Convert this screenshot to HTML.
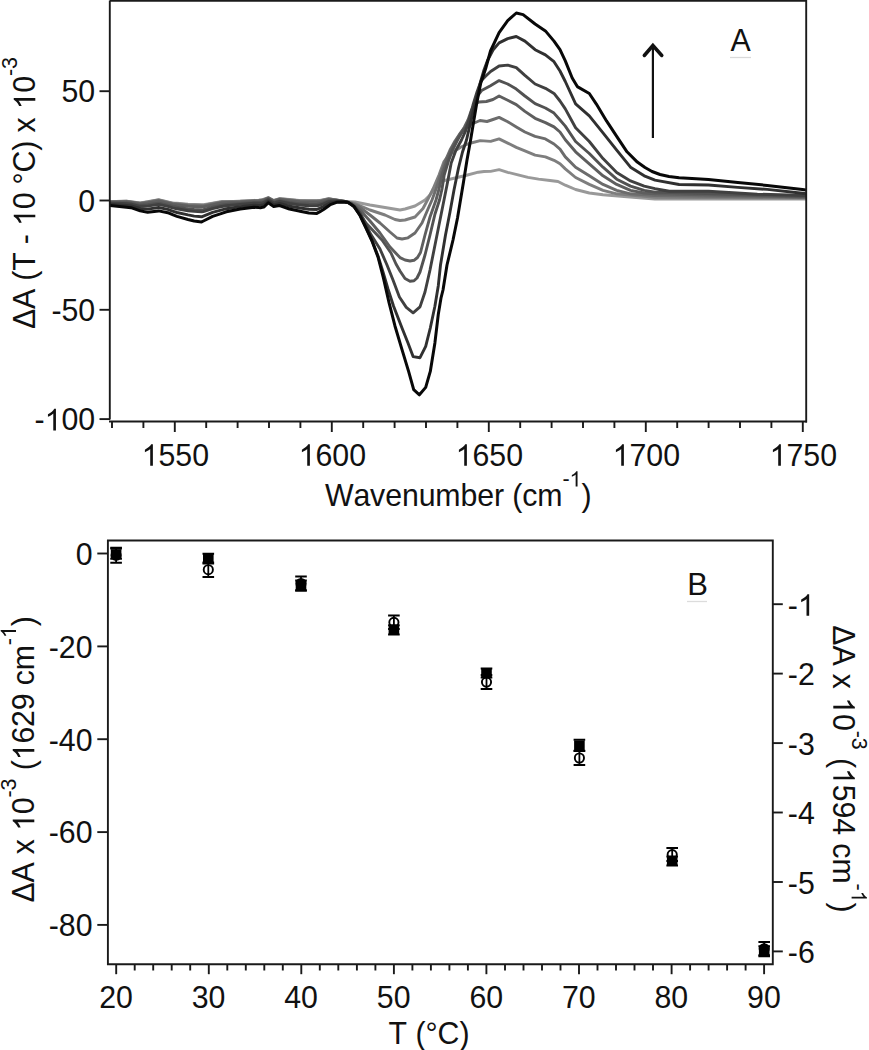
<!DOCTYPE html>
<html><head><meta charset="utf-8"><title>Figure</title>
<style>html,body{margin:0;padding:0;background:#fff;}body{width:869px;height:1050px;overflow:hidden;}
svg{display:block;}</style></head>
<body><svg width="869" height="1050" viewBox="0 0 869 1050">
<rect width="869" height="1050" fill="#fff"/>
<defs><clipPath id="ca"><rect x="110" y="1" width="696" height="420"/></clipPath></defs>
<g clip-path="url(#ca)" fill="none" stroke-linejoin="round" stroke-linecap="round">
<path d="M110.0,201.6 L121.8,201.2 L126.4,201.1 L131.0,201.7 L140.2,202.9 L147.6,201.6 L158.6,199.7 L167.8,201.8 L172.5,202.9 L177.0,203.3 L188.0,204.3 L194.2,204.5 L201.6,204.7 L203.4,204.8 L212.6,203.2 L221.8,201.5 L226.4,201.4 L240.2,201.1 L254.0,200.4 L258.7,200.2 L260.5,200.0 L262.5,199.8 L264.0,199.2 L268.3,197.6 L273.7,200.5 L279.6,198.6 L289.4,199.5 L299.1,200.4 L300.0,200.5 L308.9,200.5 L316.8,200.5 L320.0,200.5 L323.6,199.7 L328.5,198.6 L330.4,198.9 L337.3,200.1 L345.0,201.4 L355.0,202.0 L370.0,205.0 L385.0,207.5 L400.0,210.0 L405.0,209.0 L415.0,206.0 L425.0,200.0 L430.0,195.0 L434.0,189.0 L437.0,185.0 L440.0,183.5 L444.5,180.5 L453.0,178.5 L465.6,175.5 L478.3,172.2 L484.0,171.5 L490.6,171.4 L499.1,169.7 L507.7,172.3 L518.0,174.9 L528.0,177.4 L538.6,179.1 L550.0,180.5 L558.0,181.5 L565.3,185.2 L575.6,189.5 L589.3,193.0 L603.0,194.7 L630.0,197.0 L655.0,199.0 L730.0,199.0 L806.0,199.0" stroke="#999999" stroke-width="2.9"/>
<path d="M110.0,201.7 L121.8,201.4 L126.4,201.3 L131.0,201.9 L140.2,203.1 L147.6,201.9 L158.6,200.0 L167.8,202.1 L172.5,203.3 L177.0,203.7 L188.0,204.8 L194.2,205.0 L201.6,205.3 L203.4,205.3 L212.6,203.5 L221.8,201.9 L226.4,201.7 L240.2,201.3 L254.0,200.6 L258.7,200.4 L260.5,200.2 L262.5,200.0 L264.0,199.5 L268.3,197.8 L273.7,200.7 L279.6,198.8 L289.4,199.8 L299.1,200.7 L300.0,200.8 L308.9,200.9 L316.8,200.9 L320.0,200.8 L323.6,200.0 L328.5,198.8 L330.4,199.1 L337.3,200.2 L345.0,201.4 L352.0,203.0 L356.0,204.0 L370.0,210.0 L385.0,215.0 L395.0,219.5 L400.0,220.5 L405.0,220.0 L415.0,217.0 L423.0,208.5 L427.5,200.0 L433.0,189.0 L439.0,175.0 L444.0,161.6 L448.5,155.5 L454.0,151.5 L461.0,147.0 L469.0,143.5 L480.3,140.6 L490.6,141.4 L499.1,138.9 L507.7,143.1 L516.3,147.4 L524.9,150.9 L535.1,155.1 L545.4,156.9 L554.0,160.3 L560.0,163.7 L565.3,168.9 L575.6,177.5 L589.3,184.4 L603.0,190.4 L616.7,193.8 L655.0,197.2 L806.0,198.0" stroke="#7e7e7e" stroke-width="2.9"/>
<path d="M110.0,201.9 L121.8,201.6 L126.4,201.5 L131.0,202.1 L140.2,203.5 L147.6,202.4 L158.6,200.5 L167.8,202.6 L172.5,203.7 L177.0,204.2 L188.0,205.4 L194.2,205.7 L201.6,205.9 L203.4,205.9 L212.6,204.1 L221.8,202.3 L226.4,202.1 L240.2,201.7 L254.0,200.9 L258.7,200.7 L260.5,200.5 L262.5,200.3 L264.0,199.8 L268.3,198.0 L273.7,200.9 L279.6,199.1 L289.4,200.2 L299.1,201.2 L300.0,201.2 L308.9,201.4 L316.8,201.4 L320.0,201.3 L323.6,200.4 L328.5,199.1 L330.4,199.3 L337.3,200.2 L345.0,201.4 L352.0,203.5 L358.0,206.0 L370.0,215.0 L380.0,223.0 L390.0,232.0 L397.0,238.0 L402.0,239.0 L408.0,237.8 L415.0,233.0 L422.0,223.0 L428.0,209.0 L432.0,200.0 L436.0,189.0 L440.5,175.0 L445.0,161.6 L450.0,150.0 L455.0,141.0 L460.0,133.5 L466.0,126.5 L474.3,123.0 L480.0,120.5 L487.0,121.5 L493.0,119.5 L499.1,117.4 L507.7,121.7 L516.3,126.9 L524.9,132.0 L535.1,136.3 L545.4,138.9 L554.0,144.0 L560.0,149.1 L565.3,156.9 L575.6,167.2 L589.3,175.8 L603.0,184.4 L616.7,190.4 L630.5,193.8 L655.0,195.5 L806.0,197.5" stroke="#6c6c6c" stroke-width="2.9"/>
<path d="M110.0,202.1 L121.8,202.0 L126.4,201.9 L131.0,202.5 L140.2,203.9 L147.6,203.0 L158.6,201.2 L167.8,203.2 L172.5,204.4 L177.0,205.0 L188.0,206.3 L194.2,206.6 L201.6,207.0 L203.4,206.9 L212.6,204.9 L221.8,203.0 L226.4,202.8 L240.2,202.1 L254.0,201.3 L258.7,201.2 L260.5,201.0 L262.5,200.8 L264.0,200.2 L268.3,198.3 L273.7,201.3 L279.6,199.5 L289.4,200.7 L299.1,201.8 L300.0,201.9 L308.9,202.1 L316.8,202.2 L320.0,201.9 L323.6,201.0 L328.5,199.6 L330.4,199.7 L337.3,200.4 L345.0,201.5 L352.0,203.8 L360.0,210.0 L370.0,221.0 L380.0,233.0 L390.0,247.0 L400.0,257.6 L405.0,260.0 L410.0,261.0 L414.0,260.3 L417.5,257.5 L420.5,252.5 L425.0,235.0 L430.0,217.0 L436.0,200.0 L439.0,189.0 L442.0,175.0 L446.5,161.6 L451.0,150.0 L456.0,141.0 L460.0,134.0 L464.5,127.0 L468.0,120.0 L471.5,110.0 L475.0,104.0 L479.0,102.0 L486.4,101.5 L493.0,99.5 L499.1,96.0 L507.7,100.3 L516.3,104.6 L524.9,111.4 L535.1,118.3 L545.4,122.6 L554.0,126.9 L560.0,132.0 L565.3,139.8 L575.6,151.8 L589.3,163.8 L603.0,175.8 L616.7,184.4 L630.5,190.4 L644.2,193.0 L655.0,193.8 L806.0,197.0" stroke="#5e5e5e" stroke-width="2.9"/>
<path d="M110.0,202.7 L121.8,202.9 L126.4,202.9 L131.0,203.5 L140.2,205.3 L147.6,204.8 L158.6,203.1 L167.8,205.1 L172.5,206.4 L177.0,207.2 L188.0,208.9 L194.2,209.5 L201.6,209.9 L203.4,209.7 L212.6,207.1 L221.8,205.1 L226.4,204.5 L240.2,203.5 L254.0,202.5 L258.7,202.4 L260.5,202.3 L262.5,202.1 L264.0,201.6 L268.3,199.1 L273.7,202.3 L279.6,200.7 L289.4,202.4 L299.1,203.6 L300.0,203.7 L308.9,204.2 L316.8,204.4 L320.0,203.8 L323.6,202.6 L328.5,200.8 L330.4,200.6 L337.3,200.7 L345.0,201.6 L352.0,204.0 L358.0,212.0 L365.0,222.0 L372.0,229.5 L382.0,240.0 L391.0,253.0 L396.0,264.0 L400.0,271.0 L405.0,278.5 L410.0,281.2 L414.0,280.8 L417.0,278.0 L420.0,272.0 L425.0,255.0 L430.0,235.0 L435.0,214.0 L439.5,200.0 L442.0,189.0 L444.2,175.0 L448.3,161.6 L452.5,150.0 L457.0,141.0 L461.0,134.0 L466.0,127.0 L469.5,120.0 L472.5,110.0 L476.0,100.0 L478.5,94.5 L481.6,90.6 L490.5,85.7 L499.1,80.6 L507.7,84.0 L516.3,89.1 L524.9,96.0 L535.1,103.7 L545.4,108.0 L554.0,113.1 L560.0,120.0 L565.3,126.1 L575.6,141.5 L589.3,153.5 L603.0,167.2 L616.7,179.2 L630.5,186.1 L644.2,190.4 L655.0,192.1 L708.0,193.5 L806.0,196.5" stroke="#525252" stroke-width="2.9"/>
<path d="M110.0,203.2 L121.8,203.5 L126.4,203.7 L131.0,204.2 L140.2,206.3 L147.6,206.1 L158.6,204.4 L167.8,206.4 L172.5,207.8 L177.0,208.8 L188.0,210.7 L194.2,211.4 L201.6,211.9 L203.4,211.6 L212.6,208.7 L221.8,206.5 L226.4,205.8 L240.2,204.4 L254.0,203.3 L258.7,203.3 L260.5,203.2 L262.5,202.9 L264.0,202.5 L268.3,199.7 L273.7,203.1 L279.6,201.5 L289.4,203.5 L299.1,204.9 L300.0,205.0 L308.9,205.8 L316.8,205.9 L320.0,205.1 L323.6,203.8 L328.5,201.7 L330.4,201.3 L337.3,201.0 L345.0,201.6 L350.0,203.5 L355.0,207.0 L360.0,213.0 L365.0,222.0 L370.0,233.0 L375.0,241.0 L380.0,249.0 L387.0,265.0 L393.0,280.0 L399.4,297.0 L406.3,307.4 L413.1,312.8 L420.0,306.9 L425.0,292.0 L430.0,270.0 L435.0,245.0 L439.0,225.0 L443.0,205.0 L447.0,185.0 L451.2,163.0 L456.0,150.0 L461.5,140.0 L465.6,131.0 L469.0,120.0 L473.0,105.0 L477.0,92.0 L481.0,81.0 L484.8,77.0 L490.6,71.5 L499.1,66.0 L507.7,65.1 L516.3,67.7 L524.9,75.4 L535.1,84.0 L545.4,88.3 L554.0,93.4 L560.0,101.0 L565.3,108.9 L575.6,127.8 L589.3,141.5 L603.0,158.6 L616.7,172.4 L630.5,180.9 L644.2,186.1 L655.0,188.7 L669.4,191.3 L708.5,191.3 L757.4,194.2 L806.0,195.5" stroke="#404040" stroke-width="2.9"/>
<path d="M110.0,204.3 L121.8,205.1 L126.4,205.4 L131.0,205.9 L140.2,208.5 L147.6,209.1 L158.6,207.5 L167.8,209.4 L172.5,211.1 L177.0,212.5 L188.0,214.9 L194.2,216.1 L201.6,216.8 L203.4,216.1 L212.6,212.4 L221.8,209.8 L226.4,208.7 L240.2,206.6 L254.0,205.2 L258.7,205.4 L260.5,205.4 L262.5,205.0 L264.0,204.7 L268.3,201.2 L273.7,204.8 L279.6,203.5 L289.4,206.2 L299.1,207.8 L300.0,208.0 L308.9,209.2 L316.8,209.5 L320.0,208.2 L323.6,206.6 L328.5,203.8 L330.4,202.9 L337.3,201.6 L345.0,201.8 L348.0,202.4 L354.0,206.4 L360.0,215.2 L366.0,227.5 L372.0,240.5 L378.0,256.0 L383.0,272.0 L388.0,289.0 L393.5,306.0 L402.0,328.0 L408.0,343.0 L413.1,356.6 L420.0,357.7 L425.7,346.3 L430.3,328.0 L434.9,306.3 L438.3,285.7 L440.5,265.0 L445.5,235.0 L450.0,212.0 L454.0,190.0 L458.5,168.0 L462.5,152.0 L466.5,140.0 L470.0,125.0 L473.5,110.0 L477.0,96.0 L480.5,82.0 L484.0,70.0 L487.5,60.5 L493.0,50.0 L499.1,42.9 L507.7,38.6 L516.3,36.5 L524.9,41.1 L535.1,49.7 L545.4,54.9 L554.0,61.7 L560.0,71.0 L565.3,81.5 L575.6,103.8 L589.3,115.8 L603.0,132.9 L616.7,150.1 L630.5,167.2 L644.2,175.8 L655.0,180.1 L679.1,184.5 L708.5,185.0 L737.8,187.4 L767.2,189.4 L802.4,193.3 L806.0,193.8" stroke="#303030" stroke-width="2.9"/>
<path d="M110.0,205.4 L121.8,206.7 L126.4,207.2 L131.0,207.7 L140.2,210.9 L147.6,212.3 L158.6,210.9 L167.8,212.7 L172.5,214.6 L177.0,216.4 L188.0,219.5 L194.2,221.0 L201.6,221.9 L203.4,221.0 L212.6,216.4 L221.8,213.3 L226.4,211.8 L240.2,209.0 L254.0,207.2 L258.7,207.6 L260.5,207.7 L262.5,207.3 L264.0,207.0 L268.3,202.7 L273.7,206.6 L279.6,205.6 L289.4,209.0 L299.1,211.0 L300.0,211.2 L308.9,213.0 L316.8,213.4 L320.0,211.6 L323.6,209.5 L328.5,206.0 L330.4,204.6 L337.3,202.2 L345.0,201.9 L348.0,202.3 L354.0,206.5 L360.0,215.5 L366.0,228.0 L372.0,241.0 L378.0,257.0 L383.4,278.0 L389.1,302.9 L394.9,325.7 L401.7,348.6 L408.6,371.4 L413.7,389.7 L419.4,394.8 L425.7,387.4 L430.3,371.4 L434.9,342.9 L438.3,314.3 L441.0,298.0 L443.0,290.0 L447.0,265.0 L453.0,240.0 L457.5,218.0 L460.5,200.0 L463.5,182.0 L467.0,160.0 L470.6,140.0 L473.9,120.0 L476.7,103.5 L480.7,83.3 L485.6,68.8 L490.5,51.0 L499.1,32.6 L507.7,20.6 L516.3,13.0 L523.1,14.6 L535.1,24.0 L545.4,30.9 L554.0,41.1 L560.0,49.7 L565.3,60.9 L572.2,78.0 L577.3,86.6 L589.3,93.5 L596.2,103.8 L606.5,120.9 L616.7,136.3 L627.0,151.8 L637.3,162.1 L645.0,167.5 L652.0,171.5 L660.0,174.5 L669.0,176.5 L679.1,177.8 L692.0,178.6 L708.5,179.6 L737.8,182.5 L767.2,185.4 L802.4,189.4 L806.0,190.0" stroke="#080808" stroke-width="3.0"/>
</g>
<g stroke="#1a1a1a" stroke-width="1.9" fill="none" stroke-linecap="butt">
<path d="M109.8,0.5 L109.8,419.5"/>
<path d="M109.8,0.9 L806.2,0.9"/>
<path d="M806.2,0 L806.2,422.4"/>
<path d="M109,421.5 L807,421.5"/>
<path d="M99.5,91.2 L110,91.2"/>
<path d="M99.5,200.5 L110,200.5"/>
<path d="M99.5,309.8 L110,309.8"/>
<path d="M99.5,419.1 L110,419.1"/>
<path d="M112.0,421.5 L112.0,428.0"/>
<path d="M143.4,421.5 L143.4,428.0"/>
<path d="M174.8,421.5 L174.8,432.0"/>
<path d="M206.2,421.5 L206.2,428.0"/>
<path d="M237.6,421.5 L237.6,428.0"/>
<path d="M269.0,421.5 L269.0,428.0"/>
<path d="M300.4,421.5 L300.4,428.0"/>
<path d="M331.8,421.5 L331.8,432.0"/>
<path d="M363.2,421.5 L363.2,428.0"/>
<path d="M394.6,421.5 L394.6,428.0"/>
<path d="M426.0,421.5 L426.0,428.0"/>
<path d="M457.4,421.5 L457.4,428.0"/>
<path d="M488.8,421.5 L488.8,432.0"/>
<path d="M520.2,421.5 L520.2,428.0"/>
<path d="M551.6,421.5 L551.6,428.0"/>
<path d="M583.0,421.5 L583.0,428.0"/>
<path d="M614.4,421.5 L614.4,428.0"/>
<path d="M645.8,421.5 L645.8,432.0"/>
<path d="M677.2,421.5 L677.2,428.0"/>
<path d="M708.6,421.5 L708.6,428.0"/>
<path d="M740.0,421.5 L740.0,428.0"/>
<path d="M771.4,421.5 L771.4,428.0"/>
<path d="M802.8,421.5 L802.8,432.0"/>
</g>
<g stroke="#111" fill="none">
<path d="M652.9,46 L652.9,138" stroke-width="2.2"/>
<path d="M644.3,55.5 L652.9,45.5 L661.8,55.5" stroke-width="3.5" stroke-linecap="round" stroke-linejoin="miter"/>
</g>
<g transform="translate(0,102.50) scale(1,1.0200) translate(0,-102.50)">
<text x="61.50 78.35" y="102.50" style="font-family:'Liberation Sans', sans-serif;font-size:30.30px;fill:#111">50</text>
</g>
<g transform="translate(0,211.80) scale(1,1.0200) translate(0,-211.80)">
<text x="78.35" y="211.80" style="font-family:'Liberation Sans', sans-serif;font-size:30.30px;fill:#111">0</text>
</g>
<g transform="translate(0,321.10) scale(1,1.0200) translate(0,-321.10)">
<text x="51.41 61.50 78.35" y="321.10" style="font-family:'Liberation Sans', sans-serif;font-size:30.30px;fill:#111">-50</text>
</g>
<g transform="translate(0,430.40) scale(1,1.0200) translate(0,-430.40)">
<text x="34.56 61.50 78.35" y="430.40" style="font-family:'Liberation Sans', sans-serif;font-size:30.30px;fill:#111">-00</text>
<path d="M763,0 L583,0 L583,1114 Q518,1053 412,993 Q307,933 223,903 L223,1072 Q374,1141 487,1239 Q600,1337 647,1429 L763,1429 Z" fill="#111" transform="translate(44.65,430.40) scale(0.01479,-0.01479)"/>
</g>
<g transform="translate(0,465.80) scale(1,1.0200) translate(0,-465.80)">
<text x="158.45 175.30 192.15" y="465.80" style="font-family:'Liberation Sans', sans-serif;font-size:30.30px;fill:#111">550</text>
<path d="M763,0 L583,0 L583,1114 Q518,1053 412,993 Q307,933 223,903 L223,1072 Q374,1141 487,1239 Q600,1337 647,1429 L763,1429 Z" fill="#111" transform="translate(141.60,465.80) scale(0.01479,-0.01479)"/>
</g>
<g transform="translate(0,465.80) scale(1,1.0200) translate(0,-465.80)">
<text x="315.45 332.30 349.15" y="465.80" style="font-family:'Liberation Sans', sans-serif;font-size:30.30px;fill:#111">600</text>
<path d="M763,0 L583,0 L583,1114 Q518,1053 412,993 Q307,933 223,903 L223,1072 Q374,1141 487,1239 Q600,1337 647,1429 L763,1429 Z" fill="#111" transform="translate(298.60,465.80) scale(0.01479,-0.01479)"/>
</g>
<g transform="translate(0,465.80) scale(1,1.0200) translate(0,-465.80)">
<text x="472.45 489.30 506.15" y="465.80" style="font-family:'Liberation Sans', sans-serif;font-size:30.30px;fill:#111">650</text>
<path d="M763,0 L583,0 L583,1114 Q518,1053 412,993 Q307,933 223,903 L223,1072 Q374,1141 487,1239 Q600,1337 647,1429 L763,1429 Z" fill="#111" transform="translate(455.60,465.80) scale(0.01479,-0.01479)"/>
</g>
<g transform="translate(0,465.80) scale(1,1.0200) translate(0,-465.80)">
<text x="629.45 646.30 663.15" y="465.80" style="font-family:'Liberation Sans', sans-serif;font-size:30.30px;fill:#111">700</text>
<path d="M763,0 L583,0 L583,1114 Q518,1053 412,993 Q307,933 223,903 L223,1072 Q374,1141 487,1239 Q600,1337 647,1429 L763,1429 Z" fill="#111" transform="translate(612.60,465.80) scale(0.01479,-0.01479)"/>
</g>
<g transform="translate(0,465.80) scale(1,1.0200) translate(0,-465.80)">
<text x="786.45 803.30 820.15" y="465.80" style="font-family:'Liberation Sans', sans-serif;font-size:30.30px;fill:#111">750</text>
<path d="M763,0 L583,0 L583,1114 Q518,1053 412,993 Q307,933 223,903 L223,1072 Q374,1141 487,1239 Q600,1337 647,1429 L763,1429 Z" fill="#111" transform="translate(769.60,465.80) scale(0.01479,-0.01479)"/>
</g>
<g transform="translate(0,506.00) scale(1,1.0200) translate(0,-506.00)">
<text x="325.00 353.40 370.13 385.18 401.91 418.64 435.38 460.44 477.17 493.91 512.29 522.30 537.35" y="506.00" style="font-family:'Liberation Sans', sans-serif;font-size:30.30px;fill:#111">Wavenumber(cm</text>
</g>
<g transform="translate(0,486.50) scale(1,1.0200) translate(0,-486.50)">
<text x="562.41" y="486.50" style="font-family:'Liberation Sans', sans-serif;font-size:21.50px;fill:#111">-</text>
<path d="M763,0 L583,0 L583,1114 Q518,1053 412,993 Q307,933 223,903 L223,1072 Q374,1141 487,1239 Q600,1337 647,1429 L763,1429 Z" fill="#111" transform="translate(569.52,486.50) scale(0.01050,-0.01050)"/>
</g>
<g transform="translate(0,506.00) scale(1,1.0200) translate(0,-506.00)">
<text x="581.40" y="506.00" style="font-family:'Liberation Sans', sans-serif;font-size:30.30px;fill:#111">)</text>
</g>
<g transform="translate(35.3,329.0) rotate(-90)">
<g transform="translate(0,0.00) scale(1,1.0200) translate(0,0.00)">
<text x="0.00 19.98 48.23 58.19 84.77 119.67 144.61 156.57 178.17 196.43 236.33" y="0.00" style="font-family:'Liberation Sans', sans-serif;font-size:30.30px;fill:#111">&#916;A(T-0&#176;C)x0</text>
<path d="M763,0 L583,0 L583,1114 Q518,1053 412,993 Q307,933 223,903 L223,1072 Q374,1141 487,1239 Q600,1337 647,1429 L763,1429 Z" fill="#111" transform="translate(103.04,0.00) scale(0.01479,-0.01479)"/>
<path d="M763,0 L583,0 L583,1114 Q518,1053 412,993 Q307,933 223,903 L223,1072 Q374,1141 487,1239 Q600,1337 647,1429 L763,1429 Z" fill="#111" transform="translate(219.70,0.00) scale(0.01479,-0.01479)"/>
</g>
<g transform="translate(0,-18.30) scale(1,1.0200) translate(0,18.30)">
<text x="252.96 260.03" y="-18.30" style="font-family:'Liberation Sans', sans-serif;font-size:21.50px;fill:#111">-3</text>
</g>
</g>
<g transform="translate(0,51.30) scale(1,1.0200) translate(0,-51.30)">
<text x="730.50" y="51.30" style="font-family:'Liberation Sans', sans-serif;font-size:30.30px;fill:#111">A</text>
</g>
<path d="M730,57.5 L751,57.5" stroke="#d9d9d9" stroke-width="1.3"/>
<g stroke="#1a1a1a" stroke-width="1.9" fill="none">
<path d="M107.9,540.5 L772.8,540.5 L772.8,964.2 L107.9,964.2 Z"/>
<path d="M97.3,553.5 L107.9,553.5"/>
<path d="M97.3,646.4 L107.9,646.4"/>
<path d="M97.3,739.2 L107.9,739.2"/>
<path d="M97.3,832.1 L107.9,832.1"/>
<path d="M97.3,924.9 L107.9,924.9"/>
<path d="M772.8,604.2 L782.8,604.2"/>
<path d="M772.8,673.6 L782.8,673.6"/>
<path d="M772.8,743.1 L782.8,743.1"/>
<path d="M772.8,812.5 L782.8,812.5"/>
<path d="M772.8,882.0 L782.8,882.0"/>
<path d="M772.8,951.4 L782.8,951.4"/>
<path d="M116.2,964.2 L116.2,974.2"/>
<path d="M134.7,964.2 L134.7,970.5"/>
<path d="M153.2,964.2 L153.2,970.5"/>
<path d="M171.7,964.2 L171.7,970.5"/>
<path d="M190.2,964.2 L190.2,970.5"/>
<path d="M208.8,964.2 L208.8,974.2"/>
<path d="M227.3,964.2 L227.3,970.5"/>
<path d="M245.8,964.2 L245.8,970.5"/>
<path d="M264.3,964.2 L264.3,970.5"/>
<path d="M282.8,964.2 L282.8,970.5"/>
<path d="M301.3,964.2 L301.3,974.2"/>
<path d="M319.8,964.2 L319.8,970.5"/>
<path d="M338.3,964.2 L338.3,970.5"/>
<path d="M356.9,964.2 L356.9,970.5"/>
<path d="M375.4,964.2 L375.4,970.5"/>
<path d="M393.9,964.2 L393.9,974.2"/>
<path d="M412.4,964.2 L412.4,970.5"/>
<path d="M430.9,964.2 L430.9,970.5"/>
<path d="M449.4,964.2 L449.4,970.5"/>
<path d="M467.9,964.2 L467.9,970.5"/>
<path d="M486.4,964.2 L486.4,974.2"/>
<path d="M505.0,964.2 L505.0,970.5"/>
<path d="M523.5,964.2 L523.5,970.5"/>
<path d="M542.0,964.2 L542.0,970.5"/>
<path d="M560.5,964.2 L560.5,970.5"/>
<path d="M579.0,964.2 L579.0,974.2"/>
<path d="M597.5,964.2 L597.5,970.5"/>
<path d="M616.0,964.2 L616.0,970.5"/>
<path d="M634.5,964.2 L634.5,970.5"/>
<path d="M653.0,964.2 L653.0,970.5"/>
<path d="M671.6,964.2 L671.6,974.2"/>
<path d="M690.1,964.2 L690.1,970.5"/>
<path d="M708.6,964.2 L708.6,970.5"/>
<path d="M727.1,964.2 L727.1,970.5"/>
<path d="M745.6,964.2 L745.6,970.5"/>
<path d="M764.1,964.2 L764.1,974.2"/>
</g>
<g transform="translate(0,564.90) scale(1,1.0200) translate(0,-564.90)">
<text x="75.65" y="564.90" style="font-family:'Liberation Sans', sans-serif;font-size:30.30px;fill:#111">0</text>
</g>
<g transform="translate(0,657.76) scale(1,1.0200) translate(0,-657.76)">
<text x="48.71 58.80 75.65" y="657.76" style="font-family:'Liberation Sans', sans-serif;font-size:30.30px;fill:#111">-20</text>
</g>
<g transform="translate(0,750.62) scale(1,1.0200) translate(0,-750.62)">
<text x="48.71 58.80 75.65" y="750.62" style="font-family:'Liberation Sans', sans-serif;font-size:30.30px;fill:#111">-40</text>
</g>
<g transform="translate(0,843.48) scale(1,1.0200) translate(0,-843.48)">
<text x="48.71 58.80 75.65" y="843.48" style="font-family:'Liberation Sans', sans-serif;font-size:30.30px;fill:#111">-60</text>
</g>
<g transform="translate(0,936.34) scale(1,1.0200) translate(0,-936.34)">
<text x="48.71 58.80 75.65" y="936.34" style="font-family:'Liberation Sans', sans-serif;font-size:30.30px;fill:#111">-80</text>
</g>
<g transform="translate(0,615.75) scale(1,1.0200) translate(0,-615.75)">
<text x="787.80" y="615.75" style="font-family:'Liberation Sans', sans-serif;font-size:30.30px;fill:#111">-</text>
<path d="M763,0 L583,0 L583,1114 Q518,1053 412,993 Q307,933 223,903 L223,1072 Q374,1141 487,1239 Q600,1337 647,1429 L763,1429 Z" fill="#111" transform="translate(797.89,615.75) scale(0.01479,-0.01479)"/>
</g>
<g transform="translate(0,685.20) scale(1,1.0200) translate(0,-685.20)">
<text x="787.80 797.89" y="685.20" style="font-family:'Liberation Sans', sans-serif;font-size:30.30px;fill:#111">-2</text>
</g>
<g transform="translate(0,754.65) scale(1,1.0200) translate(0,-754.65)">
<text x="787.80 797.89" y="754.65" style="font-family:'Liberation Sans', sans-serif;font-size:30.30px;fill:#111">-3</text>
</g>
<g transform="translate(0,824.10) scale(1,1.0200) translate(0,-824.10)">
<text x="787.80 797.89" y="824.10" style="font-family:'Liberation Sans', sans-serif;font-size:30.30px;fill:#111">-4</text>
</g>
<g transform="translate(0,893.55) scale(1,1.0200) translate(0,-893.55)">
<text x="787.80 797.89" y="893.55" style="font-family:'Liberation Sans', sans-serif;font-size:30.30px;fill:#111">-5</text>
</g>
<g transform="translate(0,963.00) scale(1,1.0200) translate(0,-963.00)">
<text x="787.80 797.89" y="963.00" style="font-family:'Liberation Sans', sans-serif;font-size:30.30px;fill:#111">-6</text>
</g>
<g transform="translate(0,1008.20) scale(1,1.0200) translate(0,-1008.20)">
<text x="99.15 116.00" y="1008.20" style="font-family:'Liberation Sans', sans-serif;font-size:30.30px;fill:#111">20</text>
</g>
<g transform="translate(0,1008.20) scale(1,1.0200) translate(0,-1008.20)">
<text x="191.71 208.56" y="1008.20" style="font-family:'Liberation Sans', sans-serif;font-size:30.30px;fill:#111">30</text>
</g>
<g transform="translate(0,1008.20) scale(1,1.0200) translate(0,-1008.20)">
<text x="284.27 301.12" y="1008.20" style="font-family:'Liberation Sans', sans-serif;font-size:30.30px;fill:#111">40</text>
</g>
<g transform="translate(0,1008.20) scale(1,1.0200) translate(0,-1008.20)">
<text x="376.83 393.68" y="1008.20" style="font-family:'Liberation Sans', sans-serif;font-size:30.30px;fill:#111">50</text>
</g>
<g transform="translate(0,1008.20) scale(1,1.0200) translate(0,-1008.20)">
<text x="469.39 486.24" y="1008.20" style="font-family:'Liberation Sans', sans-serif;font-size:30.30px;fill:#111">60</text>
</g>
<g transform="translate(0,1008.20) scale(1,1.0200) translate(0,-1008.20)">
<text x="561.95 578.80" y="1008.20" style="font-family:'Liberation Sans', sans-serif;font-size:30.30px;fill:#111">70</text>
</g>
<g transform="translate(0,1008.20) scale(1,1.0200) translate(0,-1008.20)">
<text x="654.51 671.36" y="1008.20" style="font-family:'Liberation Sans', sans-serif;font-size:30.30px;fill:#111">80</text>
</g>
<g transform="translate(0,1008.20) scale(1,1.0200) translate(0,-1008.20)">
<text x="747.07 763.92" y="1008.20" style="font-family:'Liberation Sans', sans-serif;font-size:30.30px;fill:#111">90</text>
</g>
<g transform="translate(0,1043.60) scale(1,1.0200) translate(0,-1043.60)">
<text x="388.50 415.43 425.52 437.63 459.52" y="1043.60" style="font-family:'Liberation Sans', sans-serif;font-size:30.30px;fill:#111">T(&#176;C)</text>
</g>
<g transform="translate(34.3,902.6) rotate(-90)">
<g transform="translate(0,0.00) scale(1,1.0200) translate(0,0.00)">
<text x="0.00 20.04 48.38 88.39" y="0.00" style="font-family:'Liberation Sans', sans-serif;font-size:30.30px;fill:#111">&#916;Ax0</text>
<path d="M763,0 L583,0 L583,1114 Q518,1053 412,993 Q307,933 223,903 L223,1072 Q374,1141 487,1239 Q600,1337 647,1429 L763,1429 Z" fill="#111" transform="translate(71.71,0.00) scale(0.01479,-0.01479)"/>
</g>
<g transform="translate(0,-18.30) scale(1,1.0200) translate(0,18.30)">
<text x="105.08 112.17" y="-18.30" style="font-family:'Liberation Sans', sans-serif;font-size:21.50px;fill:#111">-3</text>
</g>
<g transform="translate(0,0.00) scale(1,1.0200) translate(0,0.00)">
<text x="132.34 159.01 175.69 192.38 217.39 232.39" y="0.00" style="font-family:'Liberation Sans', sans-serif;font-size:30.30px;fill:#111">(629cm</text>
<path d="M763,0 L583,0 L583,1114 Q518,1053 412,993 Q307,933 223,903 L223,1072 Q374,1141 487,1239 Q600,1337 647,1429 L763,1429 Z" fill="#111" transform="translate(142.33,0.00) scale(0.01479,-0.01479)"/>
</g>
<g transform="translate(0,-18.30) scale(1,1.0200) translate(0,18.30)">
<text x="257.38" y="-18.30" style="font-family:'Liberation Sans', sans-serif;font-size:21.50px;fill:#111">-</text>
<path d="M763,0 L583,0 L583,1114 Q518,1053 412,993 Q307,933 223,903 L223,1072 Q374,1141 487,1239 Q600,1337 647,1429 L763,1429 Z" fill="#111" transform="translate(264.47,-18.30) scale(0.01050,-0.01050)"/>
</g>
<g transform="translate(0,0.00) scale(1,1.0200) translate(0,0.00)">
<text x="276.30" y="0.00" style="font-family:'Liberation Sans', sans-serif;font-size:30.30px;fill:#111">)</text>
</g>
</g>
<g transform="translate(833.3,625.3) rotate(90)">
<g transform="translate(0,0.00) scale(1,1.0200) translate(0,0.00)">
<text x="0.00 20.10 48.53 88.66" y="0.00" style="font-family:'Liberation Sans', sans-serif;font-size:30.30px;fill:#111">&#916;Ax0</text>
<path d="M763,0 L583,0 L583,1114 Q518,1053 412,993 Q307,933 223,903 L223,1072 Q374,1141 487,1239 Q600,1337 647,1429 L763,1429 Z" fill="#111" transform="translate(71.93,0.00) scale(0.01479,-0.01479)"/>
</g>
<g transform="translate(0,-18.30) scale(1,1.0200) translate(0,18.30)">
<text x="105.40 112.51" y="-18.30" style="font-family:'Liberation Sans', sans-serif;font-size:21.50px;fill:#111">-3</text>
</g>
<g transform="translate(0,0.00) scale(1,1.0200) translate(0,0.00)">
<text x="132.74 159.49 176.22 192.96 218.05 233.09" y="0.00" style="font-family:'Liberation Sans', sans-serif;font-size:30.30px;fill:#111">(594cm</text>
<path d="M763,0 L583,0 L583,1114 Q518,1053 412,993 Q307,933 223,903 L223,1072 Q374,1141 487,1239 Q600,1337 647,1429 L763,1429 Z" fill="#111" transform="translate(142.76,0.00) scale(0.01479,-0.01479)"/>
</g>
<g transform="translate(0,-18.30) scale(1,1.0200) translate(0,18.30)">
<text x="258.16" y="-18.30" style="font-family:'Liberation Sans', sans-serif;font-size:21.50px;fill:#111">-</text>
<path d="M763,0 L583,0 L583,1114 Q518,1053 412,993 Q307,933 223,903 L223,1072 Q374,1141 487,1239 Q600,1337 647,1429 L763,1429 Z" fill="#111" transform="translate(265.27,-18.30) scale(0.01050,-0.01050)"/>
</g>
<g transform="translate(0,0.00) scale(1,1.0200) translate(0,0.00)">
<text x="277.14" y="0.00" style="font-family:'Liberation Sans', sans-serif;font-size:30.30px;fill:#111">)</text>
</g>
</g>
<g transform="translate(0,594.80) scale(1,1.0200) translate(0,-594.80)">
<text x="687.20" y="594.80" style="font-family:'Liberation Sans', sans-serif;font-size:31.00px;fill:#111">B</text>
</g>
<path d="M687,601.5 L707,601.5" stroke="#dcdcdc" stroke-width="1.3"/>
<g stroke="#000" fill="none">
<path d="M116.1,547.8 L116.1,562.8" stroke-width="1.8"/>
<path d="M110.3,547.8 L121.9,547.8 M110.3,562.8 L121.9,562.8" stroke-width="2"/>
<circle cx="116.1" cy="555.3" r="4.6" stroke-width="1.9" fill="#000"/>
<rect x="110.8" y="549.2" width="10.6" height="9.6" fill="#000" stroke="none"/>
<path d="M110.3,548.6 L121.9,548.6 M110.3,558.8 L121.9,558.8" stroke-width="2"/>
<path d="M208.3,562.5 L208.3,576.9" stroke-width="1.8"/>
<path d="M202.5,562.5 L214.1,562.5 M202.5,576.9 L214.1,576.9" stroke-width="2"/>
<circle cx="208.3" cy="569.7" r="4.6" stroke-width="1.9" fill="none"/>
<rect x="203.0" y="553.8" width="10.6" height="9.6" fill="#000" stroke="none"/>
<path d="M202.5,553.8 L214.1,553.8 M202.5,563.5 L214.1,563.5" stroke-width="2"/>
<path d="M301.0,576.5 L301.0,590.5" stroke-width="1.8"/>
<path d="M295.2,576.5 L306.8,576.5 M295.2,590.5 L306.8,590.5" stroke-width="2"/>
<circle cx="301.0" cy="583.5" r="4.6" stroke-width="1.9" fill="#000"/>
<rect x="295.7" y="580.5" width="10.6" height="9.6" fill="#000" stroke="none"/>
<path d="M295.2,580.5 L306.8,580.5 M295.2,590.6 L306.8,590.6" stroke-width="2"/>
<path d="M393.9,615.5 L393.9,629.1" stroke-width="1.8"/>
<path d="M388.1,615.5 L399.7,615.5 M388.1,629.1 L399.7,629.1" stroke-width="2"/>
<circle cx="393.9" cy="622.3" r="4.6" stroke-width="1.9" fill="none"/>
<rect x="388.6" y="625.2" width="10.6" height="9.6" fill="#000" stroke="none"/>
<path d="M388.1,625.2 L399.7,625.2 M388.1,634.5 L399.7,634.5" stroke-width="2"/>
<path d="M486.5,675.1 L486.5,689.1" stroke-width="1.8"/>
<path d="M480.7,675.1 L492.3,675.1 M480.7,689.1 L492.3,689.1" stroke-width="2"/>
<circle cx="486.5" cy="682.1" r="4.6" stroke-width="1.9" fill="none"/>
<rect x="481.2" y="668.1" width="10.6" height="9.6" fill="#000" stroke="none"/>
<path d="M480.7,668.4 L492.3,668.4 M480.7,677.4 L492.3,677.4" stroke-width="2"/>
<path d="M579.4,751.0 L579.4,765.0" stroke-width="1.8"/>
<path d="M573.6,751.0 L585.2,751.0 M573.6,765.0 L585.2,765.0" stroke-width="2"/>
<circle cx="579.4" cy="758.0" r="4.6" stroke-width="1.9" fill="none"/>
<rect x="574.1" y="740.5" width="10.6" height="9.6" fill="#000" stroke="none"/>
<path d="M573.6,739.8 L585.2,739.8 M573.6,750.8 L585.2,750.8" stroke-width="2"/>
<path d="M672.2,848.1 L672.2,861.1" stroke-width="1.8"/>
<path d="M666.4,848.1 L678.0,848.1 M666.4,861.1 L678.0,861.1" stroke-width="2"/>
<circle cx="672.2" cy="854.6" r="4.6" stroke-width="1.9" fill="none"/>
<rect x="666.9" y="856.2" width="10.6" height="9.6" fill="#000" stroke="none"/>
<path d="M666.4,856.4 L678.0,856.4 M666.4,865.6 L678.0,865.6" stroke-width="2"/>
<path d="M764.2,942.1 L764.2,955.3" stroke-width="1.8"/>
<path d="M758.4,942.1 L770.0,942.1 M758.4,955.3 L770.0,955.3" stroke-width="2"/>
<circle cx="764.2" cy="948.7" r="4.6" stroke-width="1.9" fill="#000"/>
<rect x="758.9" y="946.4" width="10.6" height="9.6" fill="#000" stroke="none"/>
<path d="M758.4,946.2 L770.0,946.2 M758.4,956.2 L770.0,956.2" stroke-width="2"/>
</g>
</svg></body></html>
